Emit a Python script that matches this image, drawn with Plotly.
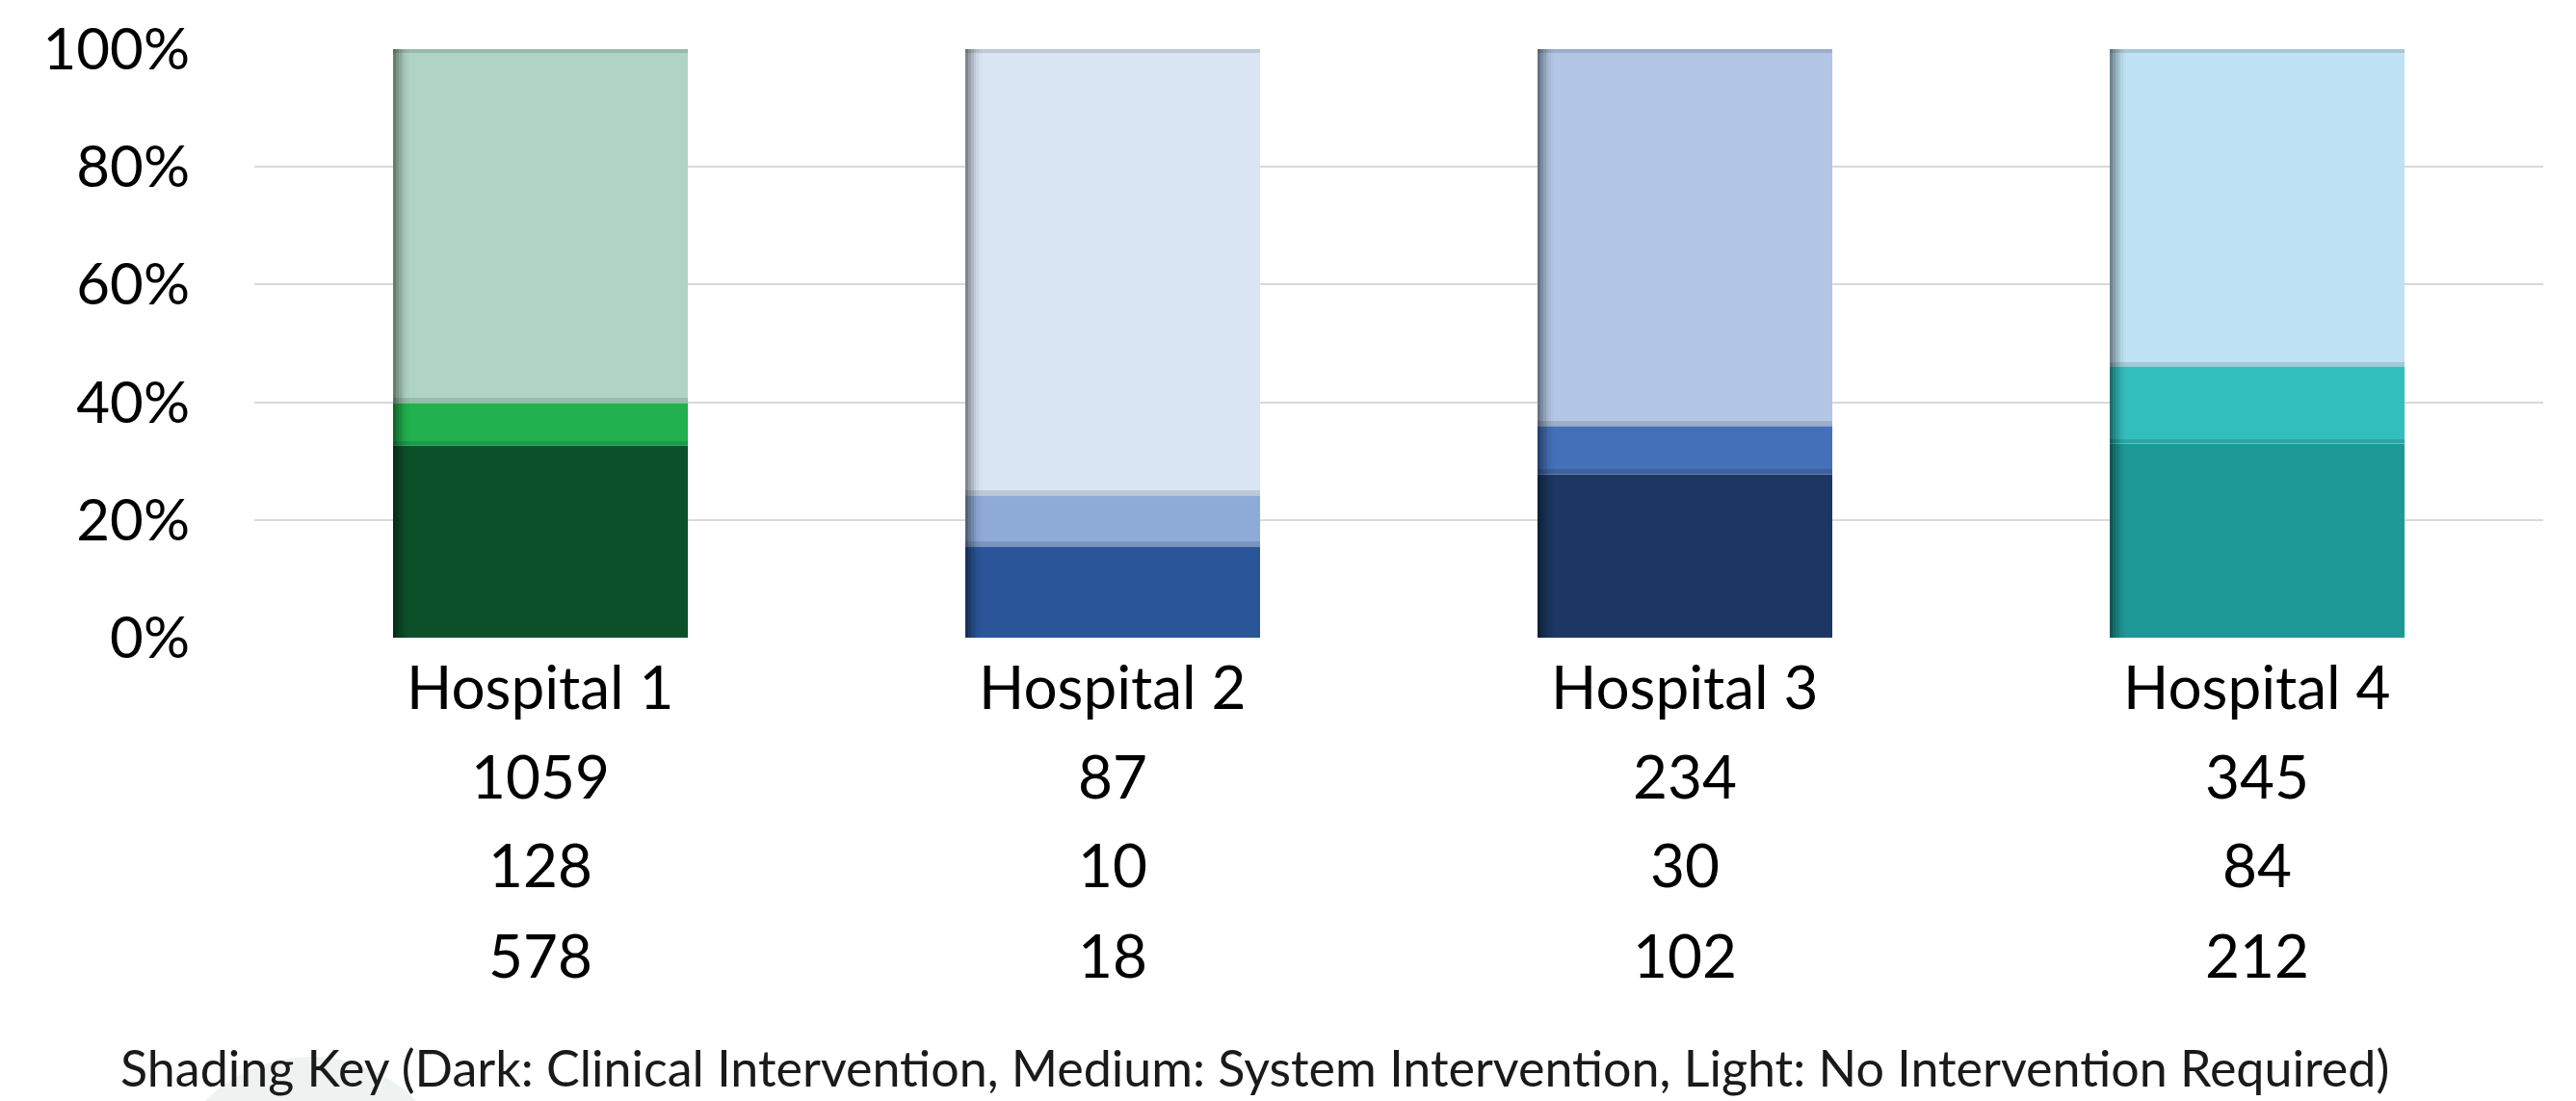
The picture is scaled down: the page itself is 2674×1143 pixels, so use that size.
import plotly.graph_objects as go

# Hospital categories and per-hospital counts
hospitals = ["Hospital 1", "Hospital 2", "Hospital 3", "Hospital 4"]
no_intervention = [1059, 87, 234, 345]      # light shade
system_intervention = [128, 10, 30, 84]     # medium shade
clinical_intervention = [578, 18, 102, 212] # dark shade

y_ticks = [0, 20, 40, 60, 80, 100]
y_tick_labels = ["0%", "20%", "40%", "60%", "80%", "100%"]
caption = ("Shading Key (Dark: Clinical Intervention, Medium: System Intervention, "
           "Light: No Intervention Required)")

# Shades per hospital (dark, medium, light)
dark_colors = ["#0c502a", "#2a5599", "#1c3763", "#1d9896"]
medium_colors = ["#21b14f", "#8eaad7", "#4470b8", "#33bebe"]
light_colors = ["#b0d4c3", "#d9e5f3", "#b3c6e5", "#bfe3f4"]

FONT = "Lato"
BAR_W = 0.515

totals = [a + b + c for a, b, c in zip(no_intervention, system_intervention, clinical_intervention)]
pct_dark = [c / t * 100 for c, t in zip(clinical_intervention, totals)]
pct_med = [b / t * 100 for b, t in zip(system_intervention, totals)]
pct_light = [a / t * 100 for a, t in zip(no_intervention, totals)]

x = list(range(len(hospitals)))
fig = go.Figure()

# Stacked segments drawn with explicit bases (dark at bottom)
base_med = pct_dark
base_light = [d + m for d, m in zip(pct_dark, pct_med)]
for vals, base, cols, name in [
    (pct_dark, [0] * 4, dark_colors, "Clinical Intervention"),
    (pct_med, base_med, medium_colors, "System Intervention"),
    (pct_light, base_light, light_colors, "No Intervention Required"),
]:
    fig.add_trace(go.Bar(x=x, y=vals, base=base, width=BAR_W, name=name,
                         marker=dict(color=cols, line=dict(width=0)),
                         hoverinfo="skip", showlegend=False))

# Soft shadow line under each upper segment
for base in [base_med, base_light]:
    fig.add_trace(go.Bar(x=x, y=[0.7] * 4, base=[b for b in base], width=BAR_W,
                         marker=dict(color="rgba(0,0,0,0.12)", line=dict(width=0)),
                         hoverinfo="skip", showlegend=False))
    fig.add_trace(go.Bar(x=x, y=[0.25] * 4, base=[b - 0.25 for b in base], width=BAR_W,
                         marker=dict(color="rgba(255,255,255,0.35)", line=dict(width=0)),
                         hoverinfo="skip", showlegend=False))

# Thin shade along the top of each bar
fig.add_trace(go.Bar(x=x, y=[0.6] * 4, base=[99.4] * 4, width=BAR_W,
                     marker=dict(color="rgba(0,0,0,0.12)", line=dict(width=0)),
                     hoverinfo="skip", showlegend=False))

# Left-edge shadow as a fading set of narrow strips
strip_w = 0.0048
alphas = [0.42, 0.30, 0.20, 0.12, 0.06, 0.02]
for k, a in enumerate(alphas):
    fig.add_trace(go.Bar(x=x, y=[100] * 4, base=[0] * 4, width=strip_w,
                         offset=-BAR_W / 2 + k * strip_w,
                         marker=dict(color=f"rgba(0,0,0,{a})", line=dict(width=0)),
                         hoverinfo="skip", showlegend=False))

# Category labels with the three counts beneath
annotations = []
rows = [hospitals, no_intervention, system_intervention, clinical_intervention]
row_shift = [-50, -143, -235, -329]
for r, vals in enumerate(rows):
    for i, v in enumerate(vals):
        annotations.append(dict(x=i, y=0, xref="x", yref="y", text=str(v),
                                showarrow=False, xanchor="center", yanchor="middle",
                                yshift=row_shift[r],
                                font=dict(family=FONT, size=62, color="#000000")))

annotations.append(dict(x=-0.0593, y=0, xref="paper", yref="paper", text=caption,
                        showarrow=False, xanchor="left", yanchor="middle", yshift=-446,
                        font=dict(family=FONT, size=52, color="#1a1a1a")))

fig.update_layout(
    width=2674, height=1143,
    margin=dict(l=264, r=34, t=51, b=481),
    paper_bgcolor="white", plot_bgcolor="white",
    barmode="overlay", bargap=0,
    annotations=annotations,
    shapes=[dict(type="circle", xref="paper", yref="paper",
                 x0=(170 - 264) / 2376, x1=(475 - 264) / 2376,
                 y0=(662 - 1400) / 611, y1=(662 - 1097) / 611,
                 fillcolor="#eef2f1", line=dict(width=0), layer="below")],
)
fig.update_xaxes(range=[-0.5, 3.5], showticklabels=False, showgrid=False,
                 zeroline=False, showline=False, ticks="")
fig.update_yaxes(range=[0, 100], tickmode="array", tickvals=y_ticks, ticktext=y_tick_labels,
                 showgrid=True, gridcolor="#d9d9d9", gridwidth=2,
                 zeroline=False, showline=False, ticks="", ticklabelstandoff=66,
                 tickfont=dict(family=FONT, size=60, color="#000000"))

fig.write_html("out.html")
